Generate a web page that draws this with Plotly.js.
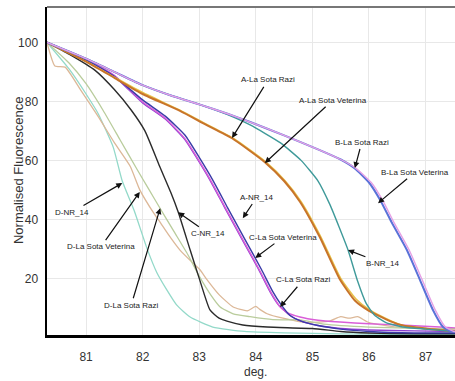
<!DOCTYPE html>
<html>
<head>
<meta charset="utf-8">
<script src="https://cdn.plot.ly/plotly-3.0.1.min.js"></script>
<style>html,body{margin:0;padding:0;background:#fff;}#chart{width:455px;height:381px;}</style>
</head>
<body>
<div id="chart"></div>
<script>
// ---- data (temperature in deg., normalised fluorescence) ----
const seriesNames = ["D-NR_14","D-La Sota Veterina","D-La Sota Razi","C-NR_14","C-La Sota Veterina","C-La Sota Razi","A-NR_14","A-La Sota Veterina","A-La Sota Razi","B-NR_14","B-La Sota Razi","B-La Sota Veterina"];

const dNR14_x = [80.31,80.7,81.0,81.21,81.48,81.64,81.85,82.08,82.25,82.43,82.6,82.84,83.24,83.8,84.5,85.5,86.5,87.52];
const dNR14_y = [100,91,82.5,76,64.5,53,43,30,22,16,11,6.9,3.5,2,1.5,1.2,1,1];

const dVet_x = [80.31,80.45,80.63,80.9,81.21,81.5,81.78,81.95,82.2,82.31,82.45,82.66,82.9,83.01,83.14,83.35,83.6,83.85,84.0,84.07,84.2,84.48,84.9,85.3,85.5,85.65,85.8,86.0,86.5,87.0,87.52];
const dVet_y = [100,92,91.6,84,75,66,58,50,42,39,35,29.6,25,23,19.5,14.5,10.3,9,10.5,9.5,8,6.5,5,5.5,7,6.5,7,5,3.5,3,2.5];

const dRazi_x = [80.31,80.7,81.0,81.3,81.6,81.9,82.1,82.31,82.55,82.8,83.01,83.2,83.37,83.6,83.9,84.3,84.78,85.2,86.0,87.0,87.52];
const dRazi_y = [100,93,86,77,67,57,50.5,43.7,36,28,20.4,14.5,10.3,8,7,6,5.9,4.5,3.5,3,3];

const cNR14_x = [80.31,80.7,81.16,81.5,81.8,82.04,82.3,82.5,82.63,82.84,83.01,83.19,83.35,83.49,83.77,84.2,85.0,85.5,86.0,86.8,87.52];
const cNR14_y = [100,96,90.5,84,77,70,58,49,42.4,29.6,19.4,9.3,6.5,5.5,4.2,3.5,3,2,1.5,1.2,1.2];

const cVet_x = [80.31,81.0,81.5,82.0,82.4,82.75,82.95,83.19,83.45,83.75,84.05,84.25,84.4,84.6,84.8,85.1,85.5,86.0,86.8,87.52];
const cVet_y = [100,94,88.5,79.5,74,67,61,53.3,44,33.5,23,15.5,11,7.5,5.5,4,3,2.5,2.2,2];

const cRazi_x = [80.31,81.0,81.5,82.0,82.4,82.75,82.96,83.2,83.46,83.76,84.06,84.26,84.43,84.55,84.78,85.1,85.49,86.0,86.55,87.25,87.52];
const cRazi_y = [100,94.2,88.8,79.8,74.3,67.3,61,53.3,44,33.5,23,15.5,10.3,8.5,6.9,5.8,5.2,4.6,4.2,3.5,3.2];

const aNR14_x = [80.31,81.0,81.5,82.0,82.4,82.75,83.0,83.24,83.5,83.8,84.1,84.3,84.45,84.6,84.8,85.1,85.5,86.0,86.8,87.52];
const aNR14_y = [100,94,88.5,80.5,75,68.5,61,53.3,44,33.5,23,15.5,11,7.5,5.5,4,2.8,2,1.5,1.5];

const aVet_x = [80.31,81.0,81.5,82.0,82.66,83.1,83.6,84.18,84.52,84.8,85.15,85.5,85.77,86.02,86.4,86.6,87.0,87.52];
const aVet_y = [100,93.5,88.2,83,77,72.5,67.5,59.4,53,46,34,20,13,9.2,5.5,4,3,2];

const aRazi_x = [80.31,81.0,81.5,82.0,82.66,83.1,83.58,84.16,84.5,84.78,85.13,85.49,85.75,86.0,86.37,86.6,87.0,87.52];
const aRazi_y = [100,93.5,88,82.5,76.8,72.3,67.5,59.4,53,46,34,19.5,12.5,9,5.5,4,3,2];

const bNR14_x = [80.31,81.0,81.5,82.0,82.5,83.0,83.5,83.9,84.43,84.8,85.1,85.31,85.47,85.63,85.8,85.95,86.1,86.3,86.6,87.0,87.52];
const bNR14_y = [100,94.5,90,85.5,82,79,75.5,72,66,60,53,45,37.5,29.6,19,11.5,7.5,5,3.5,2.8,2];

const bRazi_x = [80.31,81.0,81.5,82.0,82.5,83.0,83.5,83.9,84.5,85.13,85.5,85.75,86.0,86.2,86.4,86.67,86.9,87.13,87.31,87.45,87.52];
const bRazi_y = [100,94.5,90,85.5,82,79,75.8,73,68.5,63.5,60.3,57.3,52.5,46.5,39,29.6,19.5,9.3,3.5,2,1.8];

const bVet_x = [80.31,81.0,81.5,82.0,82.5,83.0,83.5,83.9,84.5,85.13,85.5,85.77,86.04,86.24,86.44,86.71,86.94,87.17,87.35,87.5,87.52];
const bVet_y = [100,94.5,90,85.5,82,79,75.8,73,68.5,63.5,60.3,57.3,52.5,46.5,39,29.6,19.5,9.3,3.5,2,2];

const xTicks = [81,82,83,84,85,86,87];
const yTicks = [20,40,60,80,100];

// ---- styles ----
const xs = [dNR14_x,dVet_x,dRazi_x,cNR14_x,cVet_x,cRazi_x,aNR14_x,aVet_x,aRazi_x,bNR14_x,bRazi_x,bVet_x];
const ys = [dNR14_y,dVet_y,dRazi_y,cNR14_y,cVet_y,cRazi_y,aNR14_y,aVet_y,aRazi_y,bNR14_y,bRazi_y,bVet_y];
const colors = ['#93d9c9','#dcb898','#b9cc9c','#2b2b2b','#8a3fd0','#d95ed8','#3a3aa8','#e8c24a','#c8742a','#3f9a9a','#5a72d8','#e5a0e5'];
const widths = [1.3,1.3,1.3,1.4,1.4,1.4,1.4,1.6,2,1.4,2,1.4];

const traces = seriesNames.map((n,i)=>({
  type:'scatter', mode:'lines', name:n, x:xs[i], y:ys[i],
  line:{color:colors[i], width:widths[i], shape:'spline', smoothing:0.5},
  hoverinfo:'skip'
}));

// ---- labels ----
const labelFont = {family:'"Liberation Sans", Arial, sans-serif', size:8, color:'#222'};
const labels = [
  ["A-La Sota Razi",83.58,67.6,36,-58],
  ["A-La Sota Veterina",84.16,59.1,68,-63],
  ["B-La Sota Razi",85.75,57.4,7,-26],
  ["B-La Sota Veterina",86.16,45.5,37,-31],
  ["B-NR_14",85.63,29.6,34,13],
  ["A-NR_14",83.77,40.4,14,-21],
  ["C-NR_14",82.63,42.4,30,21],
  ["C-La Sota Veterina",83.99,26.9,28,-21],
  ["C-La Sota Razi",84.43,10.3,23,-27],
  ["D-NR_14",81.64,52.3,-50,29],
  ["D-La Sota Veterina",81.95,49.3,-39,55],
  ["D-La Sota Razi",82.31,43.8,-29,97]
];
const annotations = labels.map(l=>({
  text:l[0], x:l[1], y:l[2], xref:'x', yref:'y', ax:l[3], ay:l[4],
  showarrow:true, arrowhead:2, arrowsize:1, arrowwidth:1.2, arrowcolor:'#111',
  font:labelFont, standoff:0, startstandoff:1
}));
annotations.push({text:'deg.', xref:'paper', yref:'paper', x:0.512, y:-0.114, yanchor:'middle', showarrow:false,
  font:{family:'"Liberation Sans", Arial, sans-serif', size:12, color:'#333'}});
annotations.push({text:'Normalised Fluorescence', xref:'paper', yref:'paper', x:-0.071, y:0.5, textangle:-90,
  xanchor:'center', yanchor:'middle', showarrow:false,
  font:{family:'"Liberation Sans", Arial, sans-serif', size:13, color:'#333'}});

const tickFont = {family:'"Liberation Sans", Arial, sans-serif', size:12, color:'#333'};
const layout = {
  width:455, height:381,
  margin:{l:47, r:0, t:7, b:46},
  paper_bgcolor:'#fff', plot_bgcolor:'#fff',
  showlegend:false,
  xaxis:{range:[80.31,87.52], tickvals:xTicks, showgrid:true, gridcolor:'#e8e8e8', gridwidth:1,
    showline:true, linecolor:'#000', linewidth:3, zeroline:false, ticks:'', ticklabelstandoff:9,
    tickfont:tickFont},
  yaxis:{range:[0.8,112], tickvals:yTicks, showgrid:true, gridcolor:'#e8e8e8', gridwidth:1,
    showline:true, linecolor:'#000', linewidth:2.5, zeroline:false, ticks:'', ticklabelstandoff:4,
    tickfont:tickFont},
  shapes:[{type:'line', xref:'paper', yref:'paper', x0:0, x1:1, y0:1, y1:1, line:{color:'#777', width:2}}],
  annotations:annotations
};

Plotly.newPlot('chart', traces, layout, {displayModeBar:false, staticPlot:true});
</script>
</body>
</html>
